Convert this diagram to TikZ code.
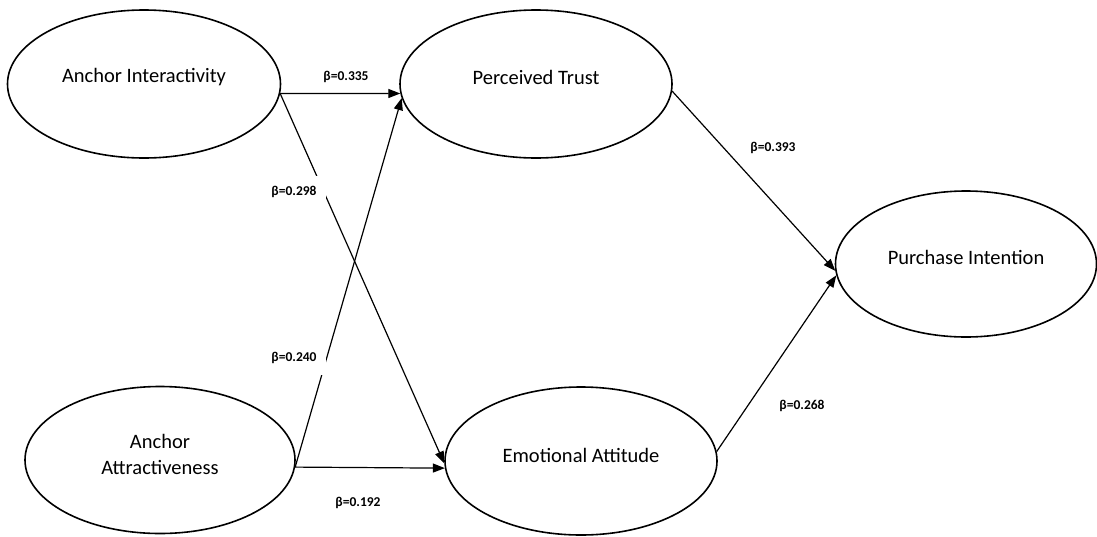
\documentclass[tikz,border=0pt]{standalone}
\usepackage{fontspec}
\setmainfont{Carlito}
\usetikzlibrary{shapes.geometric,arrows.meta}
\newcommand\txtup[2]{\raisebox{#1}[\height][\depth]{#2}}
\tikzset{
  latent/.style={ellipse, draw=black, line width=1.6pt, inner sep=0pt,
    font=\fontsize{20.5}{25}\selectfont},
  arr/.style={line width=1.2pt, -{Triangle[length=12pt,width=9pt]}},
  lbl/.style={font=\fontsize{13.5}{16}\selectfont\bfseries, fill=white, inner sep=1pt},
  gaplbl/.style={lbl, inner sep=0pt, minimum width=64pt, minimum height=33pt}
}
\begin{document}
\begin{tikzpicture}[x=1pt,y=-1pt]
\useasboundingbox[fill=white] (0,0) rectangle (1097,536);
\node[latent, minimum width=273pt, minimum height=148pt] (AI) at (144,84) {\txtup{7pt}{Anchor Interactivity}};
\node[latent, minimum width=272pt, minimum height=148pt] (PT) at (536,84) {\txtup{7pt}{Perceived Trust}};
\node[latent, minimum width=270pt, minimum height=147pt] (AA) at (160,460) {\txtup{4pt}{\begin{tabular}{@{}c@{}}Anchor\\[1pt]Attractiveness\end{tabular}}};
\node[latent, minimum width=272pt, minimum height=148pt] (EA) at (581,461) {\txtup{6pt}{Emotional Attitude}};
\node[latent, minimum width=261pt, minimum height=146pt] (PI) at (966,264) {\txtup{7pt}{Purchase Intention}};

\draw[arr] (AI.-4.2) -- (PT.184.2);
\draw[arr] (AI.-4.2) -- (EA.181.6);
\draw[arr] (AA.-3.4) -- (PT.186.4);
\draw[arr] (AA.-3.4) -- (EA.183);
\draw[arr] (PT.-3.8) -- (PI.183.5);
\draw[arr] (EA.4.2) -- (PI.185.7);

\node[lbl] (l1) at (346,77) {β=0.335};
\node[gaplbl] (l2) at (294,192) {β=0.298\hspace{12pt}};
\node[gaplbl] (l3) at (294,358) {β=0.240\hspace{12pt}};
\node[lbl] (l4) at (358,503) {β=0.192};
\node[lbl] (l5) at (773,148) {β=0.393};
\node[lbl] (l6) at (802,406) {β=0.268};
\end{tikzpicture}
\end{document}
